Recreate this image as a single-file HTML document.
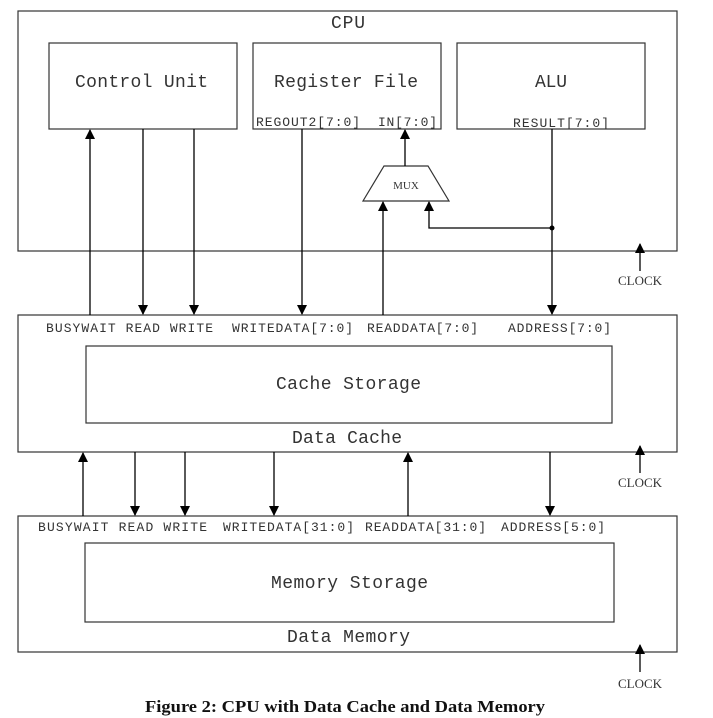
<!DOCTYPE html>
<html><head><meta charset="utf-8"><style>
html,body{margin:0;padding:0;background:#fff;}
svg{display:block;}
text{font-family:"Liberation Mono",monospace;fill:#333;}
.t{font-size:18px;}
.s{font-size:13px;}
.c{font-family:"Liberation Serif",serif;font-size:13px;}
.cap{font-family:"Liberation Serif",serif;font-size:17px;font-weight:bold;fill:#111;}
</style></head><body>
<svg width="713" height="718" viewBox="0 0 713 718">
<defs><marker id="a" markerWidth="10" markerHeight="10" refX="9" refY="5" orient="auto" markerUnits="userSpaceOnUse" viewBox="0 0 10 10"><path d="M0,0 L10,5 L0,10 Z" fill="#000"/></marker></defs>
<g fill="none" stroke="#333" stroke-width="1.2">
<rect x="18" y="11" width="659" height="240"/>
<rect x="49" y="43" width="188" height="86"/>
<rect x="253" y="43" width="188" height="86"/>
<rect x="457" y="43" width="188" height="86"/>
<polygon points="384,166 428,166 449,201 363,201"/>
<rect x="18" y="315" width="659" height="137"/>
<rect x="86" y="346" width="526" height="77"/>
<rect x="18" y="516" width="659" height="136"/>
<rect x="85" y="543" width="529" height="79"/>
</g>
<g stroke="#000" stroke-width="1.3" fill="none">
<line x1="90" y1="315" x2="90" y2="130" marker-end="url(#a)"/>
<line x1="143" y1="129" x2="143" y2="314" marker-end="url(#a)"/>
<line x1="194" y1="129" x2="194" y2="314" marker-end="url(#a)"/>
<line x1="302" y1="129" x2="302" y2="314" marker-end="url(#a)"/>
<line x1="383" y1="315" x2="383" y2="202" marker-end="url(#a)"/>
<line x1="405" y1="166" x2="405" y2="130" marker-end="url(#a)"/>
<polyline points="552,228 429,228 429,202" marker-end="url(#a)"/>
<line x1="552" y1="129" x2="552" y2="314" marker-end="url(#a)"/>
<line x1="640" y1="271" x2="640" y2="244" marker-end="url(#a)"/>
<line x1="83" y1="516" x2="83" y2="453" marker-end="url(#a)"/>
<line x1="135" y1="452" x2="135" y2="515" marker-end="url(#a)"/>
<line x1="185" y1="452" x2="185" y2="515" marker-end="url(#a)"/>
<line x1="274" y1="452" x2="274" y2="515" marker-end="url(#a)"/>
<line x1="408" y1="516" x2="408" y2="453" marker-end="url(#a)"/>
<line x1="550" y1="452" x2="550" y2="515" marker-end="url(#a)"/>
<line x1="640" y1="473" x2="640" y2="446" marker-end="url(#a)"/>
<line x1="640" y1="672" x2="640" y2="645" marker-end="url(#a)"/>
</g>
<circle cx="552" cy="228" r="2.5" fill="#000"/>
<text class="t" x="331" y="28" textLength="34" lengthAdjust="spacing">CPU</text>
<text class="t" x="75" y="87" textLength="133" lengthAdjust="spacing">Control Unit</text>
<text class="t" x="274" y="87" textLength="144" lengthAdjust="spacing">Register File</text>
<text class="t" x="535" y="87" textLength="32" lengthAdjust="spacing">ALU</text>
<text class="s" x="256" y="126" textLength="104" lengthAdjust="spacing">REGOUT2[7:0]</text>
<text class="s" x="378" y="126" textLength="59" lengthAdjust="spacing">IN[7:0]</text>
<text class="s" x="513" y="127" textLength="96" lengthAdjust="spacing">RESULT[7:0]</text>
<text class="c" x="406" y="189" text-anchor="middle" style="font-size:11px">MUX</text>
<text class="c" x="640" y="285" text-anchor="middle">CLOCK</text>
<text class="s" x="46" y="332" textLength="167" lengthAdjust="spacing">BUSYWAIT READ WRITE</text>
<text class="s" x="232" y="332" textLength="121" lengthAdjust="spacing">WRITEDATA[7:0]</text>
<text class="s" x="367" y="332" textLength="111" lengthAdjust="spacing">READDATA[7:0]</text>
<text class="s" x="508" y="332" textLength="103" lengthAdjust="spacing">ADDRESS[7:0]</text>
<text class="t" x="276" y="389" textLength="145" lengthAdjust="spacing">Cache Storage</text>
<text class="t" x="292" y="443" textLength="110" lengthAdjust="spacing">Data Cache</text>
<text class="c" x="640" y="487" text-anchor="middle">CLOCK</text>
<text class="s" x="38" y="531" textLength="169" lengthAdjust="spacing">BUSYWAIT READ WRITE</text>
<text class="s" x="223" y="531" textLength="131" lengthAdjust="spacing">WRITEDATA[31:0]</text>
<text class="s" x="365" y="531" textLength="121" lengthAdjust="spacing">READDATA[31:0]</text>
<text class="s" x="501" y="531" textLength="104" lengthAdjust="spacing">ADDRESS[5:0]</text>
<text class="t" x="271" y="588" textLength="157" lengthAdjust="spacing">Memory Storage</text>
<text class="t" x="287" y="642" textLength="123" lengthAdjust="spacing">Data Memory</text>
<text class="c" x="640" y="688" text-anchor="middle">CLOCK</text>
<text class="cap" x="145" y="712" textLength="400" lengthAdjust="spacingAndGlyphs">Figure 2: CPU with Data Cache and Data Memory</text>
</svg>
</body></html>
